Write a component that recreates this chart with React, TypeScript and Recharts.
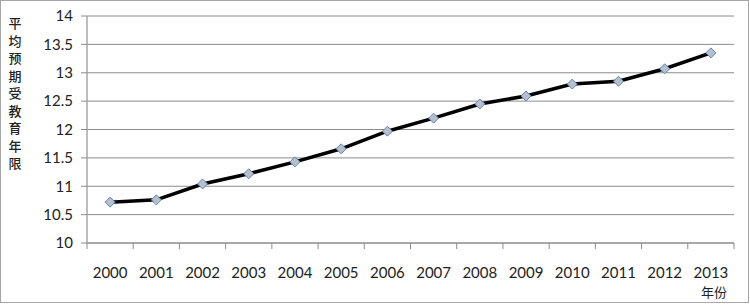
import { LineChart, Line, XAxis, YAxis, CartesianGrid } from "recharts";

const years = ["2000", "2001", "2002", "2003", "2004", "2005", "2006", "2007", "2008", "2009", "2010", "2011", "2012", "2013"];
const schoolingYears = [10.72, 10.76, 11.04, 11.22, 11.43, 11.66, 11.97, 12.2, 12.45, 12.59, 12.8, 12.85, 13.07, 13.35];
const yTicks = [10, 10.5, 11, 11.5, 12, 12.5, 13, 13.5, 14];
const yTitle = "平均预期受教育年限";
const xTitle = "年份";

const data = years.map((year, i) => ({ year, value: schoolingYears[i] }));

const W = 750;
const H = 305;
const margin = { top: 16, right: 16, bottom: 0, left: 0 };
const yAxisWidth = 87;
const band = (W - margin.left - margin.right - yAxisWidth) / years.length;

const font = "Lato, 'Noto Sans', sans-serif";
const gridColor = "#8c8c8c";

function Diamond(props: any) {
  const { cx, cy } = props;
  if (cx == null || cy == null) return null;
  const r = 5;
  return (
    <path
      d={`M${cx},${cy - r}L${cx + r},${cy}L${cx},${cy + r}L${cx - r},${cy}Z`}
      fill="#b9bfc8"
      stroke="#5b86c4"
      strokeWidth={1}
    />
  );
}

// year label plus Excel-style tick marks on the category boundaries
function YearTick(props: any) {
  const { x, y, payload, index } = props;
  const left = x - band / 2;
  const right = x + band / 2;
  return (
    <g>
      <line x1={left} y1={y} x2={left} y2={y + 6} stroke={gridColor} />
      {index === years.length - 1 && <line x1={right} y1={y} x2={right} y2={y + 6} stroke={gridColor} />}
      <text x={x} y={y + 24} dy="0.71em" textAnchor="middle" fontFamily={font} fontSize={15} fill="#222">
        {payload.value}
      </text>
    </g>
  );
}

function YTitle() {
  return (
    <text fontFamily="'Noto Sans CJK SC', sans-serif" fontSize={13} fontWeight={500} fill="#222" textAnchor="middle">
      {yTitle.split("").map((ch, i) => (
        <tspan key={i} x={15} y={28 + i * 17.5}>
          {ch}
        </tspan>
      ))}
    </text>
  );
}

function XTitle() {
  return (
    <text x={714} y={297} fontFamily="'Noto Sans CJK SC', sans-serif" fontSize={13} fill="#222" textAnchor="middle">
      {xTitle}
    </text>
  );
}

export default function App() {
  return (
    <div style={{ position: "fixed", left: 0, top: 0, width: W, height: H, background: "#fff" }}>
      <div
        style={{
          position: "absolute",
          left: 0,
          top: 0,
          width: 749,
          height: 303,
          border: "1px solid #a6a6a6",
          boxSizing: "border-box",
        }}
      />
      <div style={{ position: "absolute", left: 0, top: 0 }}>
        <LineChart width={W} height={H} data={data} margin={margin}>
          <CartesianGrid horizontal vertical={false} stroke={gridColor} strokeWidth={1} />
          <XAxis
            dataKey="year"
            scale="band"
            interval={0}
            axisLine={{ stroke: gridColor }}
            tickLine={false}
            tickSize={0}
            tickMargin={0}
            height={62}
            tick={<YearTick />}
            label={<XTitle />}
          />
          <YAxis
            domain={[10, 14]}
            ticks={yTicks}
            interval={0}
            width={yAxisWidth}
            tickSize={6}
            tickMargin={8}
            tickLine={{ stroke: gridColor }}
            axisLine={{ stroke: "#a6a6a6", strokeWidth: 1.5 }}
            tick={{ fontFamily: font, fontSize: 15, fill: "#222" }}
            label={<YTitle />}
          />
          <Line
            dataKey="value"
            stroke="#000"
            strokeWidth={3.5}
            dot={<Diamond />}
            activeDot={false}
            isAnimationActive={false}
          />
        </LineChart>
      </div>
    </div>
  );
}
